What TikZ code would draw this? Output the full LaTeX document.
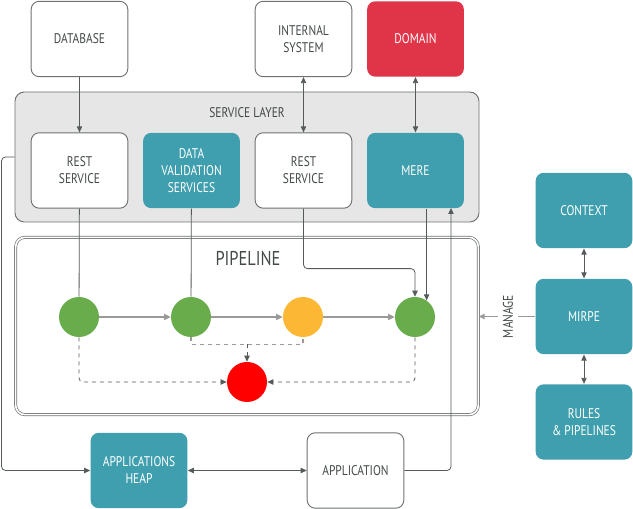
\documentclass[tikz,border=0pt]{standalone}
\usepackage{fontspec}
\setmainfont{PT Sans}[FakeStretch=0.82]
\usetikzlibrary{arrows.meta}
\definecolor{boxteal}{HTML}{3F9FAE}
\definecolor{domainred}{HTML}{E03448}
\definecolor{okgreen}{HTML}{68AC4C}
\definecolor{warnorange}{HTML}{FCB735}
\definecolor{failred}{HTML}{FF0000}
\definecolor{layergray}{HTML}{E6E6E6}
\definecolor{edgegray}{HTML}{6E7272}
\definecolor{textgray}{HTML}{434949}
\definecolor{arrowgray}{HTML}{555B5B}
\definecolor{flowgray}{HTML}{9A9A9A}
\begin{document}
\begin{tikzpicture}[x=0.75pt,y=-0.75pt,
  box/.style={draw=edgegray, line width=0.7pt, rounded corners=6pt, minimum width=72.5pt, minimum height=56.5pt, align=center, text=textgray, font=\fontsize{10.5}{12.75}\selectfont},
  tealbox/.style={box, draw=none, fill=boxteal, text=white},
  redbox/.style={box, draw=none, fill=domainred, text=white},
  dot/.style={circle, minimum size=30pt, inner sep=0pt},
  conn/.style={draw=arrowgray, line width=0.6pt, rounded corners=3pt, -{Triangle[length=4.5pt,width=4pt]}},
  plain/.style={draw=arrowgray, line width=0.6pt},
  flow/.style={draw=flowgray, line width=1.4pt, -{Triangle[length=5pt,width=4.5pt]}},
  dashconn/.style={conn, dashed},
  label/.style={text=textgray, font=\fontsize{10.5}{12.75}\selectfont}]
  \useasboundingbox (0,0) rectangle (633,509);

  % outer boxes
  \node[draw=edgegray, line width=0.7pt, fill=layergray, rounded corners=7pt, minimum width=348pt, minimum height=97.5pt] (layer) at (247,157) {};
  \node[label] (layerlbl) at (247,113) {SERVICE LAYER};
  \node[draw=edgegray, line width=0.5pt, double, double distance=1.2pt, rounded corners=7pt, minimum width=347pt, minimum height=133pt] (pipe) at (247,326) {};
  \node[label, font=\fontsize{15}{18}\selectfont] (pipelbl) at (248,259) {PIPELINE};

  % top row
  \node[box] (db) at (79.5,39) {DATABASE};
  \node[box] (intsys) at (303.5,39) {INTERNAL\\SYSTEM};
  \node[redbox] (domain) at (415.5,39) {DOMAIN};

  % service layer
  \node[box, fill=white] (rest1) at (79.5,170.5) {REST\\SERVICE};
  \node[tealbox] (dvs) at (191.5,170.5) {DATA\\VALIDATION\\SERVICES};
  \node[box, fill=white] (rest2) at (303.5,170.5) {REST\\SERVICE};
  \node[tealbox] (mere) at (415.5,170.5) {MERE};

  % pipeline steps
  \node[dot, fill=okgreen] (g1) at (79,317) {};
  \node[dot, fill=okgreen] (g2) at (191,317) {};
  \node[dot, fill=warnorange] (o3) at (303,317) {};
  \node[dot, fill=okgreen] (g4) at (415,317) {};
  \node[dot, fill=failred] (fail) at (247,382) {};

  % bottom row
  \node[tealbox] (heap) at (139,470.5) {APPLICATIONS\\HEAP};
  \node[box] (app) at (355.5,470.5) {APPLICATION};

  % right column
  \node[tealbox] (context) at (584,210.5) {CONTEXT};
  \node[tealbox] (mirpe) at (584,316.5) {MIRPE};
  \node[tealbox] (rules) at (584,422) {RULES\\\& PIPELINES};
  \node[label, rotate=90] (manage) at (508,316.5) {MANAGE};

  \coordinate (merein) at (451,208);

  \draw[conn] (db) -- (rest1);
  \draw[conn, {Triangle[length=4.5pt,width=4pt]}-{Triangle[length=4.5pt,width=4pt]}] (intsys) -- (rest2);
  \draw[conn, {Triangle[length=4.5pt,width=4pt]}-{Triangle[length=4.5pt,width=4pt]}] (domain) -- (mere);
  \draw[plain] (rest1) -- (g1);
  \draw[plain] (dvs) -- (g2);
  \draw[conn] (rest2.south) -- ++(0,60) -| (g4.north);
  \draw[conn] (mere.south -| g4.55) -- (g4.55);
  \draw[conn] (app.east) -| (merein);
  \draw[conn] (layer.west) -- ++(-13,0) |- (heap.west);
  \draw[conn, {Triangle[length=4.5pt,width=4pt]}-{Triangle[length=4.5pt,width=4pt]}] (heap) -- (app);

  \draw[flow] (g1) -- (g2);
  \draw[flow] (g2) -- (o3);
  \draw[flow] (o3) -- (g4);
  \draw[dashconn] (g1.south) |- (fail.west);
  \draw[dashconn] (g4.south) |- (fail.east);
  \draw[draw=flowgray, line width=0.9pt, dashed] (g2.south) -- ++(0,7) coordinate (join) -| (o3.south);
  \draw[dashconn] (join -| fail.north) -- (fail.north);

  \draw[conn, {Triangle[length=4.5pt,width=4pt]}-{Triangle[length=4.5pt,width=4pt]}] (context) -- (mirpe);
  \draw[conn, {Triangle[length=4.5pt,width=4pt]}-{Triangle[length=4.5pt,width=4pt]}] (mirpe) -- (rules);
  \draw[draw=flowgray, line width=0.9pt] (mirpe.west) -- (manage);
  \draw[draw=flowgray, line width=0.9pt, -{Triangle[length=4.5pt,width=4pt]}] (manage) -- (manage -| pipe.east);
\end{tikzpicture}
\end{document}
